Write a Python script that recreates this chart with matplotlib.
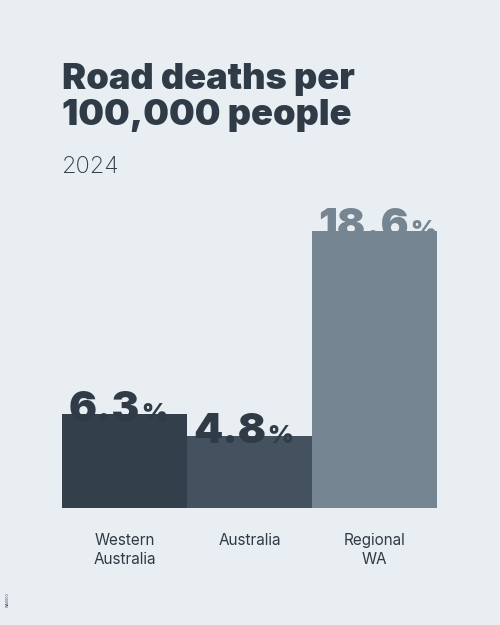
import matplotlib
matplotlib.use("Agg")
import matplotlib.pyplot as plt
from matplotlib.transforms import offset_copy

_BG = "#e9eef2"
_FG = "#2f3b46"

categories = ["Western\nAustralia", "Australia", "Regional\nWA"]
values = [6.3, 4.8, 18.6]
colors = ["#333f4a", "#44525f", "#768592"]

plt.rcParams["font.family"] = ["Inter", "DejaVu Sans"]

fig = plt.figure(figsize=(5, 6.25), dpi=100, facecolor=_BG)
ax = fig.add_axes([62 / 500, 1 - 508 / 625, 375 / 500, 298 / 625])
ax.set_facecolor(_BG)
xs = range(len(values))
ax.bar(xs, values, width=1.0, color=colors, align="center")
ax.set_xlim(-0.5, len(values) - 0.5)
ax.set_ylim(0, 20)
for s in ax.spines.values():
    s.set_visible(False)
ax.set_yticks([])
ax.set_xticks(list(xs))
ax.set_xticklabels(categories, fontsize=11, color=_FG, linespacing=1.3)
ax.tick_params(axis="x", length=0, pad=18)

fig.canvas.draw()
r = fig.canvas.get_renderer()
for i, (v, c) in enumerate(zip(values, colors)):
    num_color = "#768592" if i == 2 else _FG
    t = ax.text(i - 0.45, v - 0.45, f"{v:.1f}", fontsize=30, fontweight="black",
                color=num_color, ha="left", va="baseline")
    w = t.get_window_extent(r).width
    ax.text(i - 0.45, v - 0.45, "%", fontsize=18, fontweight="black",
            color=num_color, ha="left", va="baseline",
            transform=offset_copy(ax.transData, fig=fig, x=w * 72 / fig.dpi + 1, units="points"))

fig.text(62 / 500, 1 - 63 / 625, "Road deaths per\n100,000 people", fontsize=26,
         fontweight="black", color=_FG, ha="left", va="top", linespacing=1.1)
fig.text(62 / 500, 1 - 173 / 625, "2024", fontsize=17, fontweight="light",
         color=_FG, ha="left", va="baseline")
fig.text(6 / 500, 0.03, "WA0000", fontsize=2.5, color=_FG, rotation=90)

fig.savefig("out.png", facecolor=_BG)
